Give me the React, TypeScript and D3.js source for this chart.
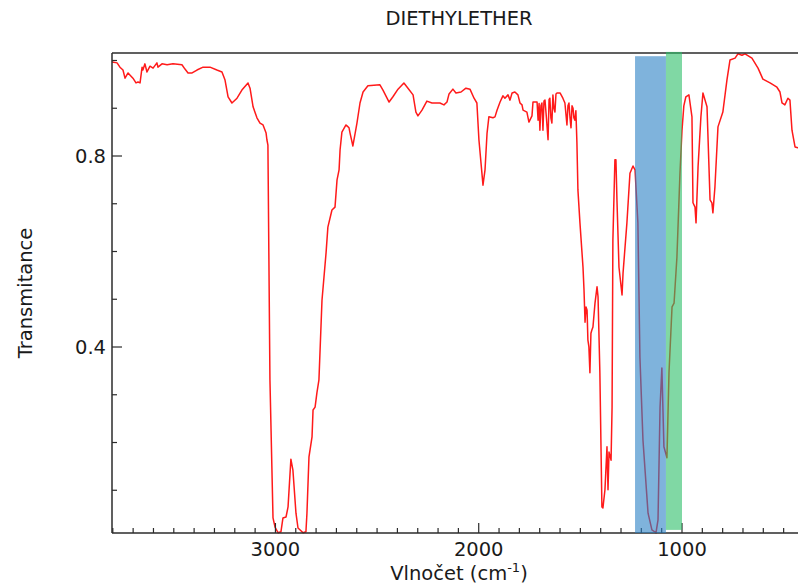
import React, { useEffect, useRef } from 'react';
import * as d3 from 'd3';

// IR spectrum of diethyl ether
const wavenumber = [
  3804, 3779, 3765, 3750, 3740, 3725, 3701, 3686, 3676, 3666, 3656, 3652, 3642, 3632, 3617, 3602,
  3583, 3578, 3558, 3533, 3504, 3460, 3445, 3430, 3410, 3386, 3356, 3322, 3288, 3263, 3248, 3233,
  3214, 3189, 3165, 3135, 3125, 3110, 3091, 3076, 3061, 3046, 3042, 3037, 3027, 3012, 3002, 2987,
  2973, 2963, 2948, 2938, 2924, 2914, 2899, 2889, 2864, 2850, 2845, 2835, 2820, 2815, 2805, 2796,
  2786, 2771, 2751, 2742, 2722, 2707, 2697, 2687, 2682, 2673, 2653, 2648, 2638, 2633, 2619, 2599,
  2584, 2569, 2545, 2486, 2471, 2441, 2422, 2397, 2368, 2348, 2323, 2309, 2299, 2279, 2255, 2230,
  2191, 2171, 2156, 2146, 2127, 2112, 2087, 2063, 2043, 2023, 2009, 1999, 1979, 1969, 1959, 1950,
  1930, 1920, 1910, 1895, 1881, 1871, 1856, 1846, 1836, 1822, 1807, 1797, 1787, 1782, 1763, 1753,
  1738, 1733, 1723, 1713, 1708, 1703, 1699, 1694, 1689, 1684, 1679, 1674, 1667, 1659, 1654, 1650,
  1645, 1640, 1635, 1630, 1625, 1620, 1615, 1600, 1586, 1576, 1566, 1561, 1556, 1551, 1546, 1541,
  1536, 1532, 1527, 1522, 1517, 1512, 1502, 1487, 1482, 1477, 1472, 1467, 1463, 1458, 1453, 1448,
  1443, 1438, 1428, 1418, 1413, 1404, 1394, 1389, 1379, 1369, 1364, 1359, 1349, 1344, 1340, 1330,
  1325, 1320, 1310, 1295, 1290, 1271, 1256, 1241, 1231, 1217, 1207, 1192, 1167, 1148, 1128, 1118,
  1108, 1099, 1089, 1074, 1064, 1049, 1039, 1025, 1010, 1000, 991, 981, 966, 951, 946, 936, 931,
  921, 907, 897, 877, 862, 853, 848, 838, 823, 799, 779, 764, 739, 725, 705, 690, 656, 626, 602,
  567, 533, 518, 508, 494, 479, 469, 459, 444, 429, 415,
];

const transmittance = [
  0.997, 0.995, 0.986, 0.980, 0.963, 0.974, 0.963, 0.953, 0.955, 0.953, 0.986, 0.980, 0.993, 0.976, 0.988, 0.984,
  0.995, 0.986, 0.993, 0.991, 0.993, 0.991, 0.982, 0.974, 0.974, 0.980, 0.986, 0.986, 0.980, 0.976, 0.959, 0.924,
  0.911, 0.921, 0.938, 0.953, 0.942, 0.903, 0.880, 0.869, 0.865, 0.848, 0.834, 0.823, 0.331, 0.042, 0.023, 0.011,
  0.013, 0.042, 0.044, 0.065, 0.165, 0.142, 0.052, 0.021, 0.011, 0.013, 0.052, 0.170, 0.212, 0.268, 0.274, 0.304,
  0.331, 0.498, 0.597, 0.651, 0.687, 0.693, 0.750, 0.771, 0.813, 0.850, 0.865, 0.863, 0.859, 0.848, 0.821, 0.869,
  0.911, 0.934, 0.947, 0.949, 0.938, 0.913, 0.924, 0.940, 0.953, 0.942, 0.928, 0.892, 0.884, 0.896, 0.915, 0.911,
  0.911, 0.907, 0.913, 0.930, 0.940, 0.932, 0.934, 0.942, 0.940, 0.921, 0.911, 0.834, 0.739, 0.771, 0.848, 0.882,
  0.880, 0.882, 0.896, 0.913, 0.926, 0.921, 0.928, 0.917, 0.932, 0.934, 0.928, 0.911, 0.907, 0.896, 0.892, 0.871,
  0.884, 0.913, 0.913, 0.913, 0.875, 0.910, 0.854, 0.905, 0.911, 0.854, 0.915, 0.917, 0.880, 0.834, 0.918, 0.921,
  0.880, 0.869, 0.928, 0.900, 0.892, 0.930, 0.932, 0.932, 0.921, 0.911, 0.865, 0.905, 0.911, 0.880, 0.859, 0.905,
  0.900, 0.880, 0.875, 0.895, 0.829, 0.729, 0.660, 0.567, 0.519, 0.452, 0.484, 0.477, 0.415, 0.400, 0.346, 0.429,
  0.436, 0.442, 0.492, 0.526, 0.505, 0.346, 0.065, 0.063, 0.101, 0.191, 0.101, 0.180, 0.163, 0.274, 0.624, 0.792,
  0.792, 0.708, 0.567, 0.509, 0.555, 0.660, 0.764, 0.779, 0.771, 0.660, 0.379, 0.205, 0.052, 0.017, 0.011, 0.038,
  0.274, 0.356, 0.191, 0.168, 0.346, 0.484, 0.492, 0.588, 0.764, 0.854, 0.905, 0.924, 0.928, 0.882, 0.702, 0.693, 0.660,
  0.777, 0.882, 0.932, 0.903, 0.708, 0.702, 0.681, 0.735, 0.861, 0.892, 0.959, 1.001, 1.005, 1.014, 1.011, 1.014, 1.005, 0.984, 0.961,
  0.953, 0.944, 0.934, 0.911, 0.907, 0.921, 0.917, 0.854, 0.819, 0.817, 0.818,
];

// highlighted regions (wavenumber from, to, transmittance top, bottom)
const spanFrom = [1231, 1079];
const spanTo = [1079, 1000];
const spanTop = [1.009, 1.018];
const spanBottom = [0.0105, 0.017];
const spanColors = ['#2a80c5', '#2bbe67'];

const xMajor = [3000, 2000, 1000];
const xMinor = d3.range(3800, 390, -100).filter(v => v % 1000 !== 0);
const yMajor = [0.4, 0.8];
const yMinor = [0.1, 0.2, 0.3, 0.5, 0.6, 0.7, 0.9, 1.0];

const font = 'DejaVu Sans, sans-serif';

function Spectrum() {
  const ref = useRef<SVGSVGElement | null>(null);

  useEffect(() => {
    const width = 798;
    const height = 585;
    const left = 112, right = 806, top = 53, bottom = 533;

    const svg = d3.select(ref.current);
    svg.selectAll('*').remove();
    svg.attr('width', width).attr('height', height);

    const x = d3.scaleLinear().domain([3804, 390]).range([left, right]);
    const y = d3.scaleLinear().domain([0.0105, 1.0157]).range([bottom, top]);

    svg.append('defs').append('clipPath')
      .attr('id', 'plotclip')
      .append('rect')
      .attr('x', left).attr('y', top - 1)
      .attr('width', right - left).attr('height', bottom - top + 2);

    const points = wavenumber.map((w, i) => [w, transmittance[i]] as [number, number]);
    const line = d3.line<[number, number]>()
      .x(d => x(d[0]))
      .y(d => y(d[1]));

    svg.append('path')
      .datum(points)
      .attr('clip-path', 'url(#plotclip)')
      .attr('d', line)
      .attr('fill', 'none')
      .attr('stroke', '#ff1a1a')
      .attr('stroke-width', 1.5)
      .attr('stroke-linejoin', 'round');

    // frame
    const frame = svg.append('g').attr('stroke', '#2b2b2b').attr('stroke-width', 1.5);
    frame.append('line').attr('x1', left).attr('x2', width).attr('y1', top).attr('y2', top);
    frame.append('line').attr('x1', left).attr('x2', width).attr('y1', bottom).attr('y2', bottom);
    frame.append('line').attr('x1', left).attr('x2', left).attr('y1', top).attr('y2', bottom);

    // x ticks (inward)
    const xAxisG = svg.append('g').attr('stroke', '#2b2b2b').attr('stroke-width', 1.2);
    xAxisG.selectAll('line.minor').data(xMinor).join('line')
      .attr('x1', d => x(d)).attr('x2', d => x(d))
      .attr('y1', bottom).attr('y2', bottom - 5);
    xAxisG.selectAll('line.major').data(xMajor).join('line')
      .attr('class', 'major')
      .attr('x1', d => x(d)).attr('x2', d => x(d))
      .attr('y1', bottom).attr('y2', bottom - 10);
    svg.append('g').selectAll('text').data(xMajor).join('text')
      .attr('x', d => x(d)).attr('y', bottom + 23)
      .attr('text-anchor', 'middle')
      .attr('font-family', font).attr('font-size', 19.5)
      .attr('fill', '#1a1a1a')
      .text(d => d);

    // y ticks (inward)
    const yAxisG = svg.append('g').attr('stroke', '#2b2b2b').attr('stroke-width', 1.2);
    yAxisG.selectAll('line.minor').data(yMinor).join('line')
      .attr('x1', left).attr('x2', left + 5)
      .attr('y1', d => y(d)).attr('y2', d => y(d));
    yAxisG.selectAll('line.major').data(yMajor).join('line')
      .attr('class', 'major')
      .attr('x1', left).attr('x2', left + 10)
      .attr('y1', d => y(d)).attr('y2', d => y(d));
    svg.append('g').selectAll('text').data(yMajor).join('text')
      .attr('x', left - 6).attr('y', d => y(d))
      .attr('dy', '0.36em')
      .attr('text-anchor', 'end')
      .attr('font-family', font).attr('font-size', 19.5)
      .attr('fill', '#1a1a1a')
      .text(d => d3.format('.1f')(d));

    // highlighted spans on top
    svg.append('g').selectAll('rect').data(spanFrom).join('rect')
      .attr('x', (d, i) => x(d))
      .attr('width', (d, i) => x(spanTo[i]) - x(d))
      .attr('y', (d, i) => y(spanTop[i]))
      .attr('height', (d, i) => y(spanBottom[i]) - y(spanTop[i]))
      .attr('fill', (d, i) => spanColors[i])
      .attr('fill-opacity', 0.6);

    // title and axis labels
    svg.append('text')
      .attr('x', 459).attr('y', 25)
      .attr('text-anchor', 'middle')
      .attr('font-family', font).attr('font-size', 19.5)
      .attr('fill', '#1a1a1a')
      .text('DIETHYLETHER');

    svg.append('text')
      .attr('transform', `translate(32,${(top + bottom) / 2}) rotate(-90)`)
      .attr('text-anchor', 'middle')
      .attr('font-family', font).attr('font-size', 19.5)
      .attr('fill', '#1a1a1a')
      .text('Transmitance');

    const xl = svg.append('text')
      .attr('x', 459).attr('y', 580)
      .attr('text-anchor', 'middle')
      .attr('font-family', font).attr('font-size', 19.5)
      .attr('fill', '#1a1a1a');
    xl.append('tspan').text('Vlnočet (cm');
    xl.append('tspan').attr('dy', -8).attr('font-size', 13).text('-1');
    xl.append('tspan').attr('dy', 8).text(')');
  }, []);

  return <svg ref={ref}></svg>;
}

export default function App() {
  return (
    <div style={{ position: 'absolute', left: 0, top: 0, background: '#fff' }}>
      <Spectrum />
    </div>
  );
}
